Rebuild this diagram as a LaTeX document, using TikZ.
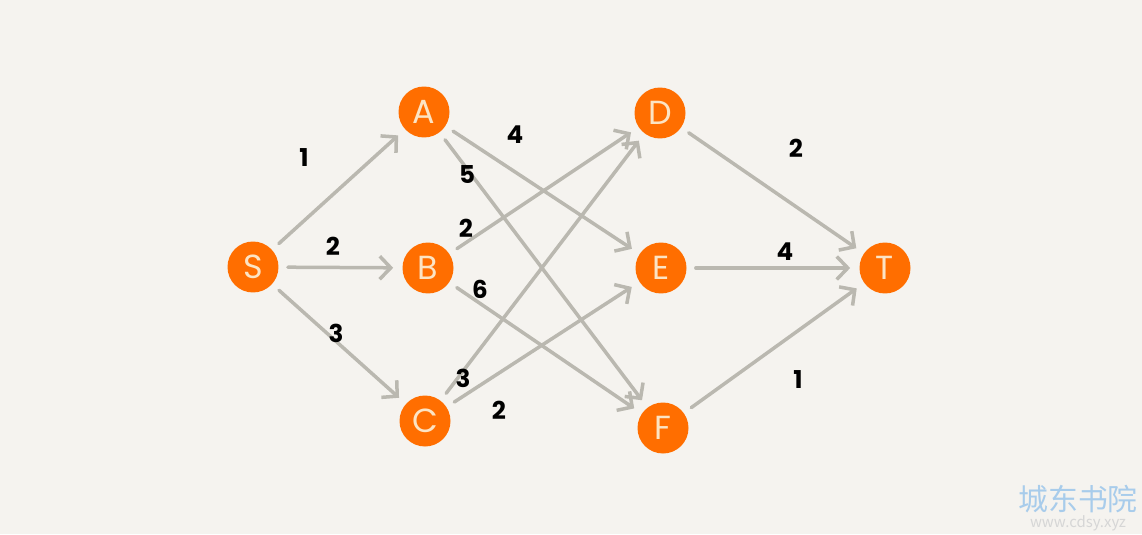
\documentclass[tikz,border=0pt]{standalone}
\usepackage{fontspec}
\setmainfont{Poppins}
\newfontfamily\cjkfont{Noto Sans CJK SC}
\usepackage{tikz}
\usepackage{xcolor}
\usetikzlibrary{arrows.meta, positioning}
\definecolor{cPaper}{RGB}{245,243,239}
\definecolor{cOrange}{RGB}{255,110,0}
\definecolor{cCream}{RGB}{252,228,196}
\definecolor{cEdge}{RGB}{186,184,176}
\definecolor{cMark}{RGB}{168,204,235}
\definecolor{cMarkGray}{RGB}{214,214,214}
\tikzset{
	vertex/.style={circle, fill=cOrange, minimum size=1.02cm, inner sep=0pt, text=cCream, font=\fontsize{19}{19}\selectfont},
	edge/.style={-{Straight Barb[length=0.22cm, width=0.46cm]}, draw=cEdge, line width=0.07cm, line cap=round, shorten <=0.18cm, shorten >=0.18cm},
	weight/.style={font=\bfseries\fontsize{14}{14}\selectfont, text=black, inner sep=1pt},
}

\begin{document}
\begin{tikzpicture}[x=0.02cm, y=-0.02cm]
	\fill[cPaper] (0,0) rectangle (1142,534);
	\useasboundingbox (0,0) rectangle (1142,534);
	% vertices
	\foreach \name/\x/\y in {S/253/267, A/424/112, B/428/268, C/425/421, D/660/113, E/661/268, F/663/428, T/885/268} {
		\node[vertex] (\name) at (\x,\y) {\name};
	}
	% edges
	\foreach \from/\to in {S/A, S/B, S/C, A/E, A/F, B/D, B/F, C/D, C/E, D/T, E/T, F/T} {
		\draw[edge] (\from) -- (\to);
	}
	% weights
	\foreach \w/\x/\y [count=\i] in {1/304/158, 2/333/246, 3/336/333, 4/515/135, 5/467/175, 2/466/228, 6/480/289, 3/463/378, 2/499/410, 2/796/148, 4/785/252, 1/798/380} {
		\node[weight] (w\i) at (\x,\y) {\w};
	}
	% watermark
	\node[text=cMark, font=\cjkfont\fontsize{17}{17}\selectfont, inner sep=0pt] (markcn) at (1078,499) {城东书院};
	\node[text=cMarkGray, font=\cjkfont\fontsize{8.5}{8.5}\selectfont, inner sep=0pt] (markurl) at (1078,523) {www.cdsy.xyz};
\end{tikzpicture}
\end{document}
